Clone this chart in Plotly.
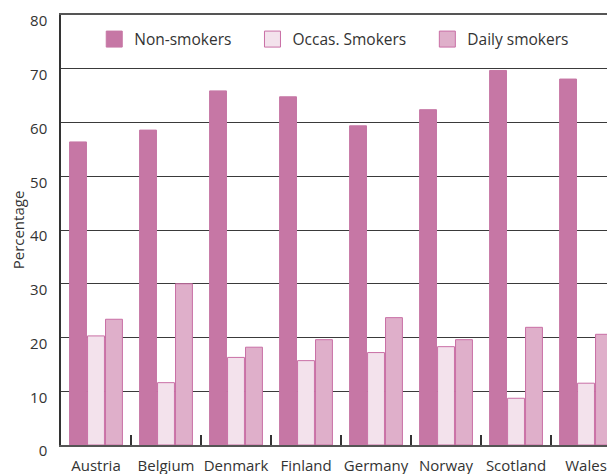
import plotly.graph_objects as go

countries = ["Austria", "Belgium", "Denmark", "Finland", "Germany", "Norway", "Scotland", "Wales"]
non_smokers = [56.4, 58.6, 65.9, 64.8, 59.4, 62.4, 69.7, 68.1]
occas_smokers = [20.3, 11.6, 16.3, 15.7, 17.2, 18.3, 8.7, 11.5]
daily_smokers = [23.4, 30.0, 18.2, 19.6, 23.7, 19.6, 21.9, 20.6]
series_names = ["Non-smokers", "Occas. Smokers", "Daily smokers"]
y_ticks = [0, 10, 20, 30, 40, 50, 60, 70, 80]

edge = "#C96FA5"
fills = ["#C677A5", "#F3E2EC", "#DFAFCA"]
lines = ["#C677A5", edge, edge]
font = "Open Sans, Noto Sans, sans-serif"
txt = "#333333"
pad = "\u00a0" * 4  # extra spacing between legend entries

fig = go.Figure()
for name, vals, fc, lc in zip(series_names, [non_smokers, occas_smokers, daily_smokers], fills, lines):
    fig.add_trace(go.Bar(
        x=countries, y=vals, name=name, legendgroup=name, showlegend=False,
        marker=dict(color=fc, line=dict(color=lc, width=1)),
    ))
# legend swatches (larger than default bar swatch)
for i, (name, fc, lc) in enumerate(zip(series_names, fills, lines)):
    fig.add_trace(go.Scatter(
        x=[None], y=[None], mode="markers",
        name=name + (pad if i < len(series_names) - 1 else ""), legendgroup=name,
        marker=dict(symbol="square", size=16, color=fc, line=dict(color=lc, width=1)),
        hoverinfo="skip",
    ))

# the page body has an 8px margin, so the figure is offset by (8, 8)
fig.update_layout(
    width=607, height=466,
    margin=dict(l=53, r=0, t=7, b=29),
    paper_bgcolor="white", plot_bgcolor="white",
    font=dict(family=font, size=15, color=txt),
    barmode="group", bargap=0.23, bargroupgap=0.06,
    showlegend=True,
    legend=dict(
        orientation="h", x=0.06, xanchor="left", y=0.943, yanchor="middle",
        bgcolor="rgba(0,0,0,0)", font=dict(size=15.5, color=txt),
        itemsizing="trace",
    ),
    xaxis=dict(
        type="category", range=[-0.5, 7.414], automargin=False,
        showline=True, linecolor="#555555", linewidth=1.5,
        mirror=True,
        ticks="inside", tickson="boundaries", ticklen=10, tickcolor="#333333", tickwidth=1.5,
        showgrid=False, tickangle=0, ticklabelstandoff=6,
        tickfont=dict(size=15, color=txt),
    ),
    yaxis=dict(
        range=[0, 80.02], tickvals=y_ticks, ticktext=[str(v) for v in y_ticks],
        automargin=False, ticklabeloverflow="allow", ticklabelshift=6,
        showgrid=True, gridcolor="#3a3a3a", gridwidth=1,
        showline=True, linecolor="#333333", linewidth=1.5,
        zeroline=False, ticks="", ticklabelstandoff=9,
        tickfont=dict(size=15, color=txt),
        title=dict(text="Percentage", font=dict(size=15, color=txt), standoff=14),
    ),
)

fig.write_html("out.html")
